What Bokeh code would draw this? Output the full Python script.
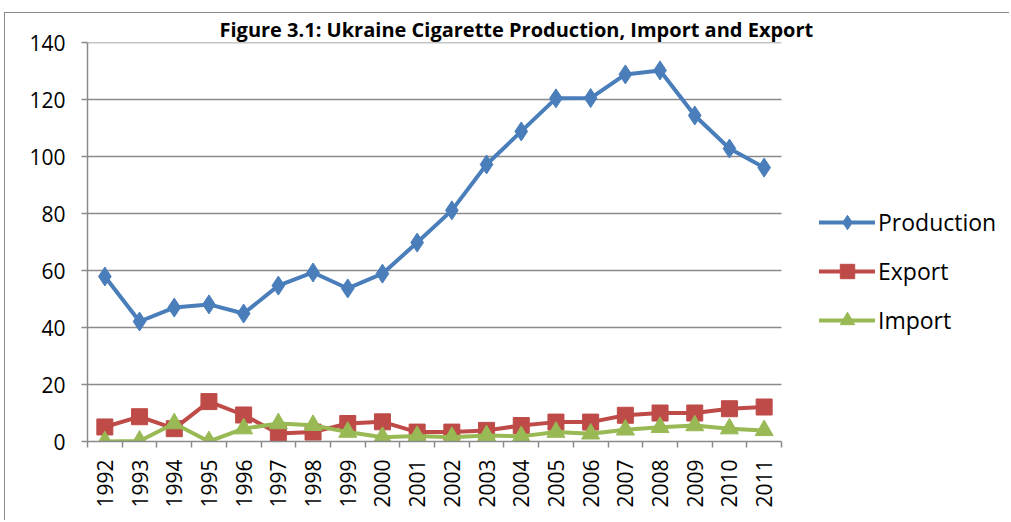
import math
from bokeh.plotting import figure
from bokeh.models import (FixedTicker, Legend, LegendItem, ColumnDataSource, Range1d)
from bokeh.embed import file_html
from bokeh.resources import INLINE

years = ["1992", "1993", "1994", "1995", "1996", "1997", "1998", "1999", "2000", "2001",
         "2002", "2003", "2004", "2005", "2006", "2007", "2008", "2009", "2010", "2011"]
production = [57.9, 42.1, 47.0, 48.1, 44.9, 54.7, 59.3, 53.7, 58.9, 69.8,
              81.1, 97.2, 108.8, 120.4, 120.5, 128.8, 130.2, 114.4, 102.8, 96.1]
export = [5.1, 8.7, 4.5, 14.0, 9.3, 2.8, 3.3, 6.3, 6.9, 3.3,
          3.3, 3.9, 5.6, 6.8, 6.8, 9.2, 10.0, 10.0, 11.5, 12.1]
imports = [0.0, 0.2, 6.3, 0.0, 4.5, 6.3, 5.7, 3.3, 1.5, 1.9,
           1.5, 2.1, 1.8, 3.3, 2.7, 4.1, 5.0, 5.6, 4.5, 3.9]
y_ticks = [0, 20, 40, 60, 80, 100, 120, 140]
title_text = "Figure 3.1: Ukraine Cigarette Production, Import and Export"

FONT = "Open Sans"
GRAY = "#8a8a8a"

n = len(years)
xs = list(range(1, n + 1))
src = ColumnDataSource(dict(x=xs, year=years, production=production,
                            export=export, imports=imports))

W, H = 1005, 508
LEFT, TOP, BOTTOM = 82, 28, 80
PLOT_W = 694                      # pixel width taken by the category area
frame_w = W - LEFT
x_start = 0.5
x_end = x_start + frame_w * n / PLOT_W

p = figure(width=W, height=H, output_backend="svg", toolbar_location=None,
           x_range=Range1d(x_start, x_end), y_range=Range1d(0, 140),
           min_border_left=LEFT, min_border_right=0, min_border_top=TOP,
           min_border_bottom=BOTTOM)
p.outline_line_color = None
p.background_fill_color = "white"
p.border_fill_color = "white"
p.styles = {"margin-left": "4px", "margin-top": "12px",
            "border-top": "1.5px solid #8a8a8a", "border-left": "1.5px solid #8a8a8a"}

p.title.text = title_text
p.title.align = "left"
p.title.offset = 132
p.title.standoff = 0
p.title.text_font = FONT
p.title.text_font_style = "bold"
p.title.text_font_size = "20px"
p.title.text_color = "black"

# axes
p.yaxis.ticker = FixedTicker(ticks=y_ticks)
p.xaxis.ticker = FixedTicker(ticks=xs, minor_ticks=[i + 0.5 for i in range(n + 1)])
p.xaxis.bounds = (0.5, n + 0.5)
p.xaxis.major_label_overrides = {i: y for i, y in zip(xs, years)}
p.xaxis.major_label_orientation = math.pi / 2
for ax in (p.xaxis[0], p.yaxis[0]):
    ax.axis_line_color = GRAY
    ax.axis_line_width = 1.5
    ax.major_label_text_font = FONT
    ax.major_label_text_font_size = "21px"
    ax.major_label_text_color = "black"
p.yaxis.major_tick_out = 6
p.yaxis.major_tick_in = 0
p.yaxis.major_tick_line_color = GRAY
p.yaxis.major_tick_line_width = 1.5
p.yaxis.minor_tick_line_color = None
p.yaxis.major_label_standoff = 16
p.xaxis.major_tick_out = 0
p.xaxis.major_tick_in = 0
p.xaxis.major_tick_line_color = None
p.xaxis.minor_tick_out = 6
p.xaxis.minor_tick_in = 0
p.xaxis.minor_tick_line_color = GRAY
p.xaxis.minor_tick_line_width = 1.5
p.xaxis.major_label_standoff = 12

# horizontal gridlines only across the category area
p.xgrid.grid_line_color = None
p.ygrid.grid_line_color = None
gy = y_ticks[1:]
p.segment(x0=[0.5] * len(gy), x1=[n + 0.5] * len(gy), y0=gy, y1=gy,
          line_color=GRAY, line_width=1.5)

series = [("Production", "production", "#4A7EBB", "diamond", 19),
          ("Export", "export", "#BE4B48", "square", 16),
          ("Import", "imports", "#98B954", "triangle", 18)]
items = []
for name, col, color, marker, size in series:
    l = p.line("x", col, source=src, line_color=color, line_width=4,
               line_join="round", line_cap="round")
    s = p.scatter("x", col, source=src, marker=marker, size=size,
                  fill_color=color, line_color=color)
    items.append(LegendItem(label=name, renderers=[l, s]))

legend = Legend(items=items, location=(732, 103), glyph_width=56, glyph_height=36,
                label_height=36, spacing=13, padding=0, margin=0, label_standoff=3,
                label_text_font=FONT, label_text_font_size="23px",
                label_text_color="black", border_line_color=None,
                background_fill_alpha=0)
p.add_layout(legend, "center")

open("out.html", "w").write(file_html(p, INLINE))
